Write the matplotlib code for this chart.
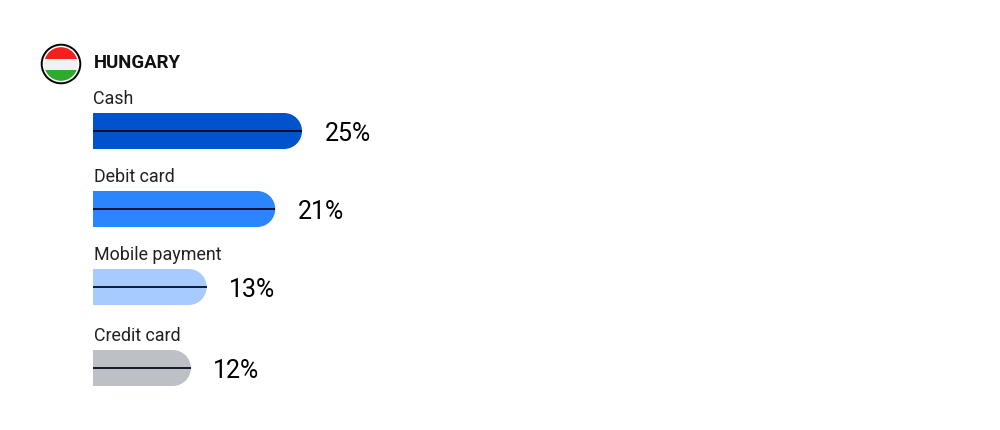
import numpy as np
import matplotlib
matplotlib.use('Agg')
import matplotlib.pyplot as plt
from matplotlib.patches import Circle, PathPatch, Rectangle
from matplotlib.path import Path

title = 'HUNGARY'
categories = ['Cash', 'Debit card', 'Mobile payment', 'Credit card']
value_labels = ['25%', '21%', '13%', '12%']
# bar lengths as drawn in the picture, they do not follow the labels exactly
bar_values = [25.0, 21.8, 13.6, 11.7]
colors = ['#0053CC', '#2B85FF', '#A8CBFF', '#BDC1C6']

WIDTH, HEIGHT = 1000, 431
BAR_LEFT = 93
PX_PER_UNIT = 8.36
BAR_CENTERS = [132, 210, 288, 369]
BAR_H = 36

plt.rcParams['font.family'] = ['Roboto', 'DejaVu Sans']


def to_px(v):
    return BAR_LEFT + v * PX_PER_UNIT


def rounded_bar(x0, x1, yc, h):
    # flat on the left, pill shaped on the right
    r = h / 2
    k = 0.5523 * r
    verts = [(x0, yc - r), (x1 - r, yc - r),
             (x1 - r + k, yc - r), (x1, yc - k), (x1, yc),
             (x1, yc + k), (x1 - r + k, yc + r), (x1 - r, yc + r),
             (x0, yc + r), (x0, yc - r)]
    codes = [Path.MOVETO, Path.LINETO,
             Path.CURVE4, Path.CURVE4, Path.CURVE4,
             Path.CURVE4, Path.CURVE4, Path.CURVE4,
             Path.LINETO, Path.CLOSEPOLY]
    return Path(verts, codes)


fig = plt.figure(figsize=(WIDTH / 100, HEIGHT / 100), dpi=100, facecolor='white')
ax = fig.add_axes([0, 0, 1, 1])
ax.set_xlim(0, WIDTH)
ax.set_ylim(HEIGHT, 0)
ax.axis('off')

# flag
ax.add_patch(Circle((61, 65), 19.3, fc='white', ec='black', lw=1.4))
clip = Circle((61, 65), 16.8, transform=ax.transData)
for y0, h, c in [(48, 11.5, '#F5201C'), (59.5, 11, '#F1F1F1'), (70.5, 11.5, '#2EAA2E')]:
    stripe = Rectangle((44, y0), 34, h, fc=c, ec='none')
    ax.add_patch(stripe)
    stripe.set_clip_path(clip)

ax.text(93.5, 63, title, fontsize=13.4, fontweight='bold', color='#111111', va='center', ha='left')

for name, val, lab, c, yc in zip(categories, bar_values, value_labels, colors, BAR_CENTERS):
    x1 = to_px(val)
    ax.add_patch(PathPatch(rounded_bar(BAR_LEFT, x1, yc, BAR_H), fc=c, ec='none'))
    ax.plot([BAR_LEFT, x1], [yc, yc], color='#0A0A20', lw=1.3, solid_capstyle='butt')
    ax.text(93.5, yc - 32.5, name, fontsize=12.9, color='#202124', va='center', ha='left')
    ax.text(x1 + 22.5, yc + 2.5, lab, fontsize=18, color='black', va='center', ha='left')

fig.savefig('out.png', dpi=100, facecolor='white')
